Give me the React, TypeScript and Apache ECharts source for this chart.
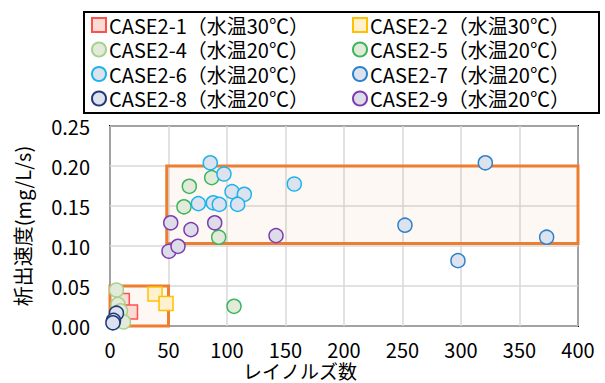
import React, { useEffect, useRef } from "react";
import * as echarts from "echarts";

const seriesNames = [
  "CASE2-1（水温30℃）",
  "CASE2-2（水温30℃）",
  "CASE2-4（水温20℃）",
  "CASE2-5（水温20℃）",
  "CASE2-6（水温20℃）",
  "CASE2-7（水温20℃）",
  "CASE2-8（水温20℃）",
  "CASE2-9（水温20℃）",
];

const case21: number[][] = [[10.5, 0.032], [17.5, 0.0175]];
const case22: number[][] = [[38.5, 0.04], [47.9, 0.028]];
const case24: number[][] = [[5.5, 0.045], [6.8, 0.027], [9.0, 0.019], [11.5, 0.005]];
const case25: number[][] = [[86.9, 0.1855], [67.8, 0.1746], [63.2, 0.149], [92.9, 0.111], [106, 0.0246]];
const case26: number[][] = [
  [85.7, 0.204], [97.4, 0.19], [104.3, 0.168], [114.8, 0.1646], [157.5, 0.1775],
  [75.5, 0.153], [88.3, 0.154], [93.4, 0.152], [109.1, 0.152],
];
const case27: number[][] = [[320.8, 0.204], [252.1, 0.126], [373.2, 0.111], [297.4, 0.0817]];
const case28: number[][] = [[5.5, 0.016], [3.0, 0.007], [2.5, 0.004]];
const case29: number[][] = [[51.9, 0.129], [69.2, 0.1205], [89.5, 0.129], [141.9, 0.113], [50.4, 0.0934], [58.1, 0.0996]];

const seriesData = [case21, case22, case24, case25, case26, case27, case28, case29];
const symbols = ["rect", "rect", "circle", "circle", "circle", "circle", "circle", "circle"];
const borderColors = ["#FF5050", "#FFC000", "#A9D18E", "#3DB55E", "#1DB4EE", "#2E82CC", "#1F3A78", "#7A3EB0"];
const fillColors = ["#FBDCD2", "#FFF1CE", "#E2EBDA", "#E2EBDA", "#DDE3EE", "#DDE3EE", "#DDE3EE", "#DEDCE9"];

// highlighted ranges: [xMin, yMin, xMax, yMax]
const areas: number[][] = [[0, 0, 50, 0.05], [48.5, 0.103, 400, 0.2]];

const xTicks = { min: 0, max: 400, interval: 50 };
const yTicks = { min: 0, max: 0.25, interval: 0.05 };

const FONT = "'Noto Sans CJK JP', 'Noto Sans', sans-serif";

export default function App() {
  const ref = useRef<HTMLDivElement>(null);
  useEffect(() => {
    if (!ref.current) return;
    const chart = echarts.init(ref.current, undefined, { renderer: "svg" });
    const scatterSeries = seriesNames.map((name, i) => ({
      name,
      type: "scatter",
      data: seriesData[i],
      symbol: symbols[i],
      symbolSize: 14,
      z: 3,
      itemStyle: { color: fillColors[i], borderColor: borderColors[i], borderWidth: 1.5, opacity: 1 },
    }));
    const areaSeries = {
      type: "scatter",
      data: [],
      z: 2,
      silent: true,
      markArea: {
        silent: true,
        itemStyle: { color: "rgba(237,125,49,0.05)", borderColor: "#ED7D31", borderWidth: 3 },
        data: areas.map((a) => [{ coord: [a[0], a[1]] }, { coord: [a[2], a[3]] }]),
      },
    };
    const legendCommon = {
      orient: "vertical",
      top: 15,
      padding: 0,
      itemWidth: 14,
      itemHeight: 14,
      itemGap: 4.5,
      textStyle: { fontFamily: FONT, fontSize: 20, color: "#000", lineHeight: 20, padding: [0, 0, 0, -2] },
    };
    chart.setOption({
      animation: false,
      backgroundColor: "#fff",
      grid: {
        left: 110,
        right: 27,
        top: 126,
        bottom: 57,
        show: true,
        borderColor: "#000",
        borderWidth: 2,
        containLabel: false,
        outerBoundsMode: "none",
      },
      legend: [
        { ...legendCommon, left: 91, data: [seriesNames[0], seriesNames[2], seriesNames[4], seriesNames[6]] },
        { ...legendCommon, left: 352, data: [seriesNames[1], seriesNames[3], seriesNames[5], seriesNames[7]] },
      ],
      xAxis: {
        type: "value",
        min: xTicks.min,
        max: xTicks.max,
        interval: xTicks.interval,
        axisLine: { show: false },
        axisTick: { show: false },
        axisLabel: { color: "#000", fontSize: 20, fontFamily: FONT, margin: 13, lineHeight: 20 },
        splitLine: { show: true, lineStyle: { color: "#D9D9D9", width: 1.5 } },
      },
      yAxis: {
        type: "value",
        min: yTicks.min,
        max: yTicks.max,
        interval: yTicks.interval,
        name: "析出速度(mg/L/s)",
        nameLocation: "middle",
        nameRotate: 90,
        nameGap: 78,
        nameTextStyle: { color: "#000", fontSize: 20, fontFamily: FONT },
        axisLine: { show: false },
        axisTick: { show: false },
        axisLabel: {
          color: "#000",
          fontSize: 20,
          fontFamily: FONT,
          margin: 20,
          formatter: (v: number) => v.toFixed(2),
        },
        splitLine: { show: true, lineStyle: { color: "#D9D9D9", width: 1.5 } },
      },
      graphic: [
        {
          type: "rect",
          shape: { x: 84, y: 12, width: 515, height: 101 },
          style: { fill: "none", stroke: "#000", lineWidth: 2 },
          z: 0,
        },
        {
          type: "text",
          x: 300,
          y: 370,
          style: {
            text: "レイノルズ数",
            fill: "#000",
            font: `19px ${FONT}`,
            align: "center",
            verticalAlign: "middle",
          },
        },
      ],
      series: [areaSeries, ...scatterSeries],
    });
    return () => chart.dispose();
  }, []);
  return <div ref={ref} style={{ width: 605, height: 383, position: "absolute", left: 0, top: 0 }} />;
}
